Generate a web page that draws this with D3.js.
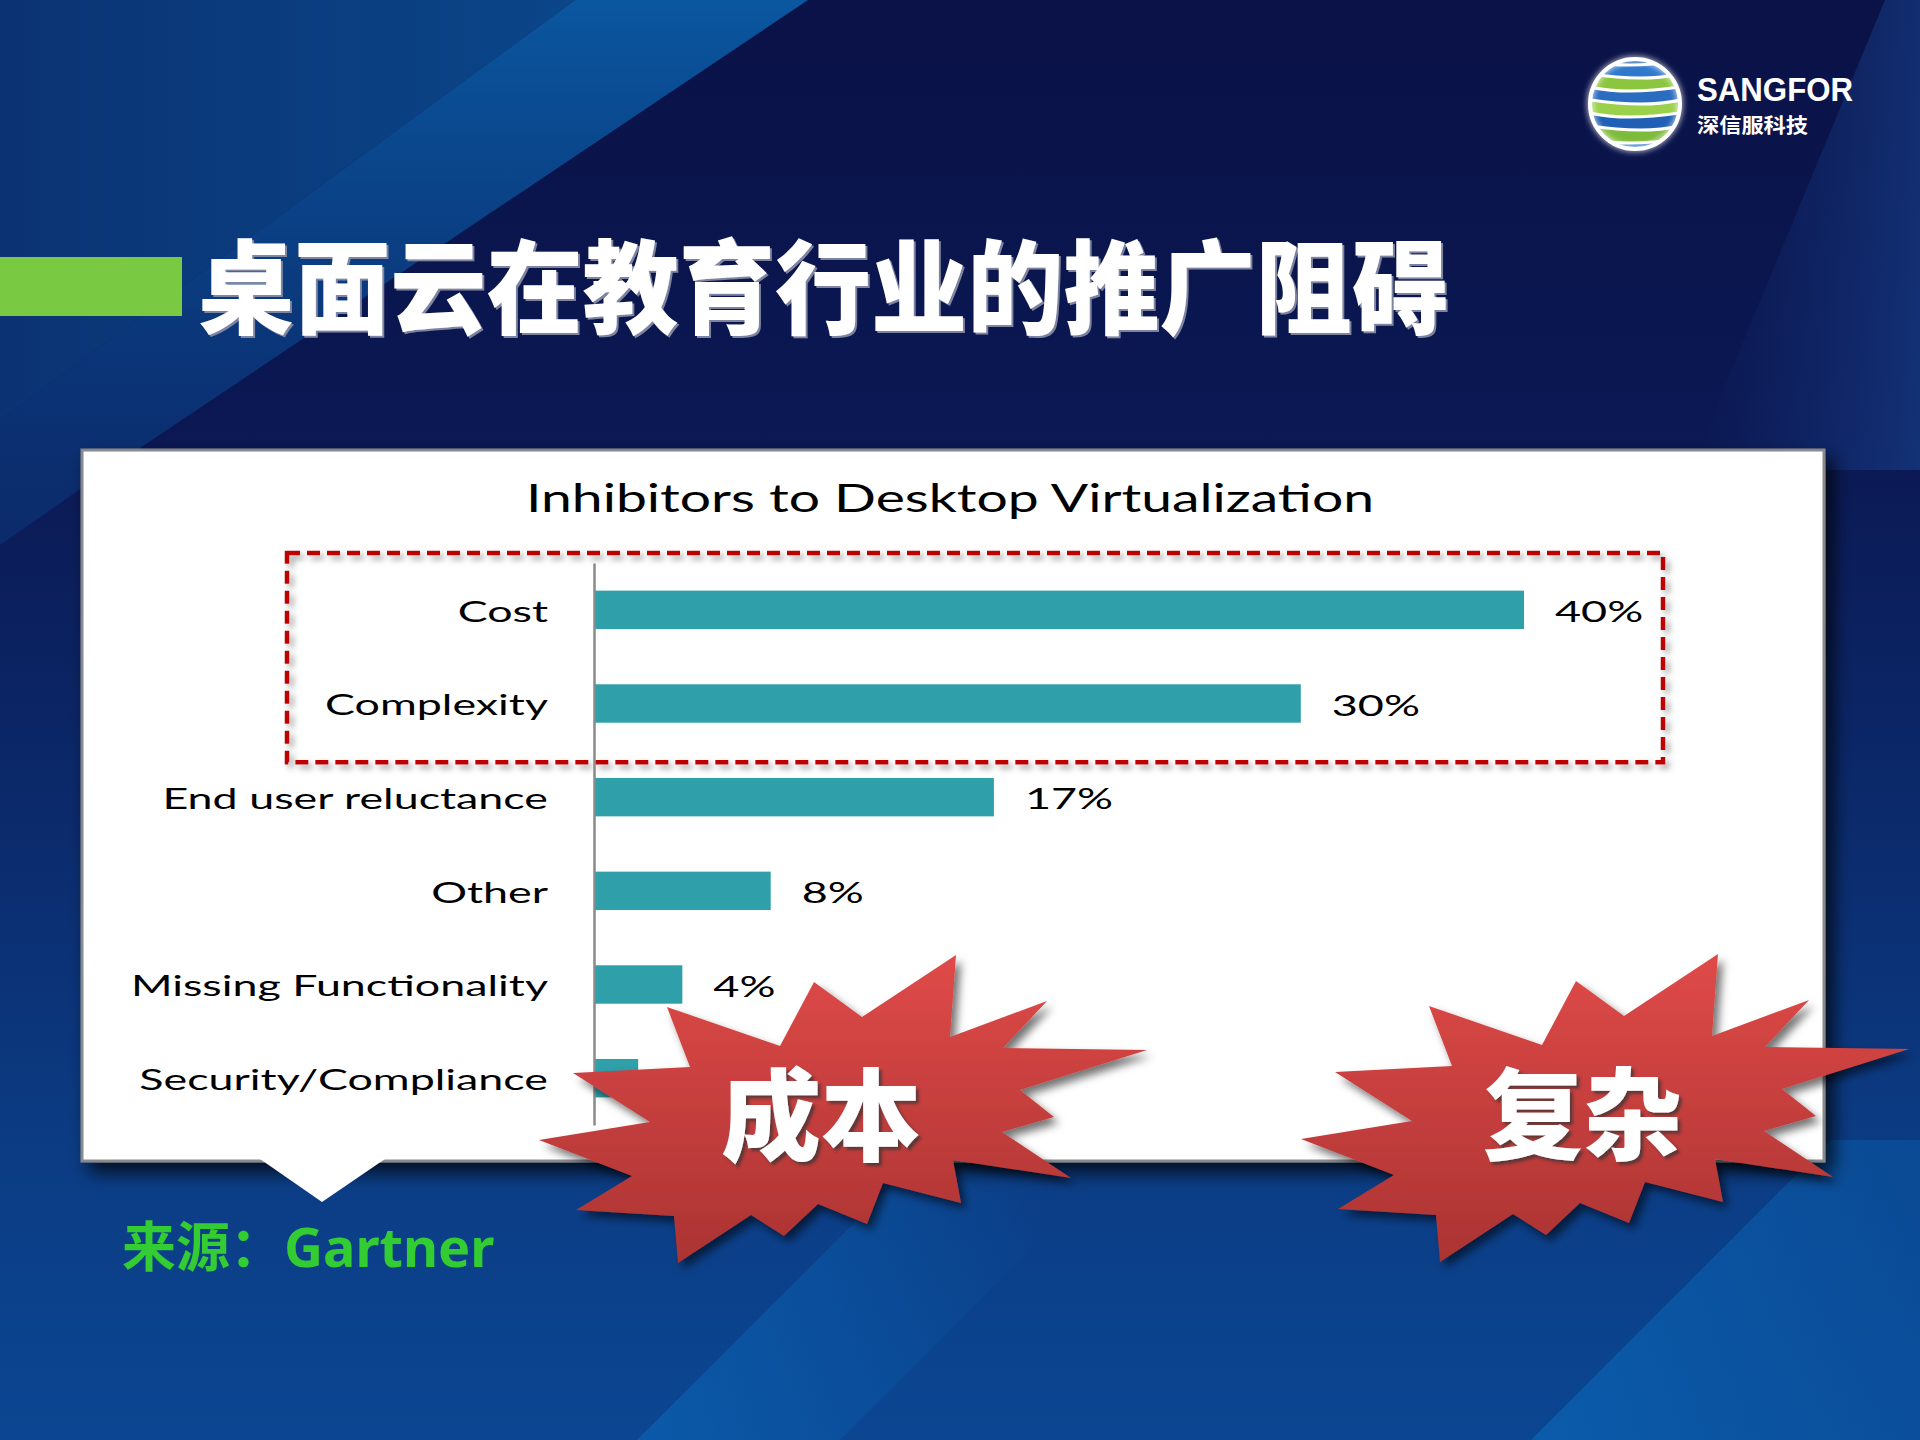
<!DOCTYPE html>
<html><head><meta charset="utf-8">
<script src="https://cdn.jsdelivr.net/npm/d3@7"></script>
<style>html,body{margin:0;padding:0;background:#0b1a58;} svg{display:block}</style>
</head><body>
<svg id="c" width="1920" height="1440"></svg>
<script>
// ---- data ----
const categories = ["Cost", "Complexity", "End user reluctance", "Other", "Missing Functionality", "Security/Compliance"];
const values = [40, 30.4, 17.2, 7.6, 3.8, 1.9];
const valueLabels = ["40%", "30%", "17%", "8%", "4%", "2%"];
const highlighted = ["Cost", "Complexity"];
const chartTitle = "Inhibitors to Desktop Virtualization";
const slideTitle = "桌面云在教育行业的推广阻碍";
const sourceLabel = "来源：";
const sourceName = "Gartner";
const burstWords = ["成本", "复杂"];
const logoName = "SANGFOR";
const logoSub = "深信服科技";

const W = 1920, H = 1440;
const svg = d3.select("#c");
const defs = svg.append("defs");

function lin(id, x1, y1, x2, y2, stops, user) {
  const g = defs.append("linearGradient").attr("id", id)
    .attr("x1", x1).attr("y1", y1).attr("x2", x2).attr("y2", y2);
  if (user) g.attr("gradientUnits", "userSpaceOnUse");
  stops.forEach(s => g.append("stop").attr("offset", s[0]).attr("stop-color", s[1]).attr("stop-opacity", s[2] == null ? 1 : s[2]));
}
lin("bgMain", 0, 0, 0, 1, [[0, "#0a1247"], [0.3, "#0b1853"], [0.55, "#0b296a"], [0.8, "#0b3c84"], [1, "#0b4692"]]);
lin("streakA", 0, 0, 575, 0, [[0, "#0b3373"], [1, "#0a4689"]], true);
lin("streakB", 0, 0, 0, 540, [[0, "#0a57a0"], [1, "#0b3478", 0.6]], true);
lin("streakC", 637, 0, 1050, 0, [[0, "#0a60b0", 0.75], [1, "#0a60b0", 0]], true);
lin("streakD", 1531, 0, 1920, 0, [[0, "#0a63b3", 0.75], [1, "#0a5aa8", 0.45]], true);
lin("streakE", 1700, 0, 1920, 0, [[0, "#1a3f8c", 0.0], [1, "#1a4a98", 0.5]], true);
lin("burst", 0, 0, 0, 1, [[0, "#df4a48"], [1, "#ab3332"]]);

function shadow(id, dx, dy, sd, color, op) {
  const f = defs.append("filter").attr("id", id).attr("x", "-20%").attr("y", "-20%").attr("width", "140%").attr("height", "140%");
  f.append("feDropShadow").attr("dx", dx).attr("dy", dy).attr("stdDeviation", sd)
    .attr("flood-color", color).attr("flood-opacity", op);
}
shadow("panelShadow", 8, 10, 9, "#000", 0.75);
shadow("boxShadow", 4, 4, 3, "#777", 0.7);
shadow("burstShadow", 5, 6, 4, "#000", 0.55);
shadow("textShadow", 3, 3, 1.5, "#333", 0.7);
shadow("titleShadow", 2, 2, 0.6, "#8a8fa8", 0.9);
const glow = defs.append("filter").attr("id", "glow").attr("x", "-30%").attr("y", "-30%").attr("width", "160%").attr("height", "160%");
glow.append("feGaussianBlur").attr("stdDeviation", 3).attr("result", "b");
const gm = glow.append("feMerge"); gm.append("feMergeNode").attr("in", "b"); gm.append("feMergeNode").attr("in", "SourceGraphic");

// ---- background ----
const bg = svg.append("g");
bg.append("rect").attr("width", W).attr("height", H).attr("fill", "url(#bgMain)");
bg.append("polygon").attr("points", "0,0 575,0 0,420").attr("fill", "url(#streakA)");
bg.append("polygon").attr("points", "575,0 808,0 122,460 0,545 0,420").attr("fill", "url(#streakB)");
bg.append("polygon").attr("points", "1885,0 1920,0 1920,470 1690,470").attr("fill", "url(#streakE)");
bg.append("polygon").attr("points", "937,1140 1140,1140 840,1440 637,1440").attr("fill", "url(#streakC)");
bg.append("polygon").attr("points", "1831,1140 1920,1140 1920,1440 1531,1440").attr("fill", "url(#streakD)");

// ---- logo ----
const logo = svg.append("g").attr("transform", "translate(1635,104)");
defs.append("clipPath").attr("id", "globeClip").append("circle").attr("r", 44);
const gl = logo.append("g").attr("clip-path", "url(#globeClip)");
gl.append("circle").attr("r", 44).attr("fill", "#1d5aad");
const bandColors = ["#2f78cc", "#8cc63f", "#2a6cc0", "#9bd04a", "#1f5fb5", "#7dbb3a", "#2f78cc"];
bandColors.forEach((c, i) => {
  const y = -44 + i * 13;
  const off = (i % 2 ? 10 : -10);
  gl.append("path").attr("d", `M-50,${y} Q${off},${y + 10} 50,${y} L50,${y + 13} Q${off},${y + 23} -50,${y + 13} Z`).attr("fill", c);
  gl.append("path").attr("d", `M-50,${y} Q${off},${y + 10} 50,${y}`).attr("fill", "none").attr("stroke", "#ffffff").attr("stroke-width", 3);
});
logo.append("circle").attr("r", 45).attr("fill", "none").attr("stroke", "#ffffff").attr("stroke-width", 4).attr("filter", "url(#glow)");
svg.append("text").attr("x", 1697).attr("y", 101).text(logoName)
  .attr("font-family", "'Liberation Sans', Arial, sans-serif").attr("font-weight", 700).attr("font-size", 34)
  .attr("fill", "#fff").attr("textLength", 156).attr("lengthAdjust", "spacingAndGlyphs");
svg.append("text").attr("x", 1697).attr("y", 133).text(logoSub)
  .attr("font-family", "'Noto Sans CJK SC'").attr("font-weight", 700).attr("font-size", 20)
  .attr("fill", "#fff").attr("textLength", 111).attr("lengthAdjust", "spacingAndGlyphs");

// ---- slide title ----
svg.append("rect").attr("x", 0).attr("y", 257).attr("width", 182).attr("height", 59).attr("fill", "#7ac943");
svg.append("text").attr("x", 198).attr("y", 326).text(slideTitle)
  .attr("font-family", "'Noto Sans CJK SC'").attr("font-weight", 900).attr("font-size", 102)
  .attr("fill", "#fff").attr("filter", "url(#titleShadow)")
  .attr("textLength", 1250).attr("lengthAdjust", "spacingAndGlyphs");

// ---- panel ----
const panel = { x: 82, y: 450, w: 1742, h: 711 };
svg.append("rect").attr("x", panel.x).attr("y", panel.y).attr("width", panel.w).attr("height", panel.h)
  .attr("fill", "#fff").attr("stroke", "#8a8a8a").attr("stroke-width", 3).attr("filter", "url(#panelShadow)");
svg.append("polygon").attr("points", "260,1159 385,1159 322,1202").attr("fill", "#fff");

// ---- chart ----
const K = 1.6;  // horizontal stretch of category labels
const KV = 1.55; // horizontal stretch of value labels
const font = "Lato, 'Open Sans', sans-serif";
function stretch(sel, k) {
  sel.each(function () {
    const w = this.getComputedTextLength();
    d3.select(this).attr("textLength", w * k).attr("lengthAdjust", "spacingAndGlyphs");
  });
}

svg.append("text").attr("x", 950).attr("y", 512).attr("text-anchor", "middle").text(chartTitle)
  .attr("font-family", font).attr("font-size", 38).attr("fill", "#000")
  .attr("textLength", 848).attr("lengthAdjust", "spacingAndGlyphs");

const x = d3.scaleLinear().domain([0, 40]).range([594, 1524]);
const y = d3.scaleBand().domain(categories).range([563, 1125]).paddingInner(0.59).paddingOuter(0.295);

// highlight box
const hb0 = y(highlighted[0]) - y.step() * 0.295 - 10;
const hb1 = y(highlighted[highlighted.length - 1]) + y.bandwidth() + y.step() * 0.295 + 12;
svg.append("rect").attr("x", 287).attr("y", hb0).attr("width", 1376).attr("height", hb1 - hb0)
  .attr("fill", "none").attr("stroke", "#c00000").attr("stroke-width", 4.5)
  .attr("stroke-dasharray", "13 7").attr("filter", "url(#boxShadow)");

const data = categories.map((c, i) => ({ c, v: values[i], l: valueLabels[i] }));
svg.append("g").selectAll("rect").data(data).join("rect")
  .attr("x", x(0)).attr("y", d => y(d.c)).attr("width", d => x(d.v) - x(0)).attr("height", y.bandwidth())
  .attr("fill", "#2f9faa");

const yAxis = svg.append("g").attr("transform", `translate(${x(0)},0)`)
  .call(d3.axisLeft(y).tickSize(0).tickPadding(46));
yAxis.select(".domain").attr("stroke", "#8a8a8a").attr("stroke-width", 2.5);
yAxis.selectAll("text").attr("font-family", font).attr("font-size", 28).attr("fill", "#000").attr("dy", "0.42em")
  .call(stretch, K);

const vl = svg.append("g").selectAll("text").data(data).join("text")
  .attr("x", d => x(d.v) + 31).attr("y", d => y(d.c) + y.bandwidth() / 2).attr("dy", "0.42em")
  .attr("font-family", font).attr("font-size", 29).attr("fill", "#000").text(d => d.l);
vl.call(stretch, KV);

// ---- starbursts ----
const burstShape = [[135,-158],[129,-76],[226,-112],[182,-65],[326,-63],[199,-23],[233,4],[181,19],[250,65],[132,47],[140,90],[62,70],[46,111],[-3,91],[-37,123],[-70,102],[-143,150],[-147,103],[-245,97],[-189,63],[-282,27],[-171,9],[-248,-40],[-131,-46],[-154,-106],[-41,-67],[-7,-131],[41,-96]];
const burstCenters = [[821, 1113], [1583, 1112]];
const line = d3.line().curve(d3.curveLinearClosed);
burstWords.forEach((wd, i) => {
  const g = svg.append("g").attr("transform", `translate(${burstCenters[i][0]},${burstCenters[i][1]})`);
  g.append("path").attr("d", line(burstShape)).attr("fill", "url(#burst)").attr("filter", "url(#burstShadow)");
  g.append("text").attr("x", 0).attr("y", 40).attr("text-anchor", "middle").text(wd)
    .attr("font-family", "'Noto Sans CJK SC'").attr("font-weight", 900).attr("font-size", 100)
    .attr("fill", "#fff").attr("filter", "url(#textShadow)");
});

// ---- source ----
const src = svg.append("text").attr("x", 122).attr("y", 1267).attr("fill", "#33cc33")
  .attr("font-weight", 700).attr("font-size", 54);
src.append("tspan").attr("font-family", "'Noto Sans CJK SC'").text(sourceLabel);
src.append("tspan").attr("font-family", "'Noto Sans', sans-serif").text(sourceName);
</script>
</body></html>
